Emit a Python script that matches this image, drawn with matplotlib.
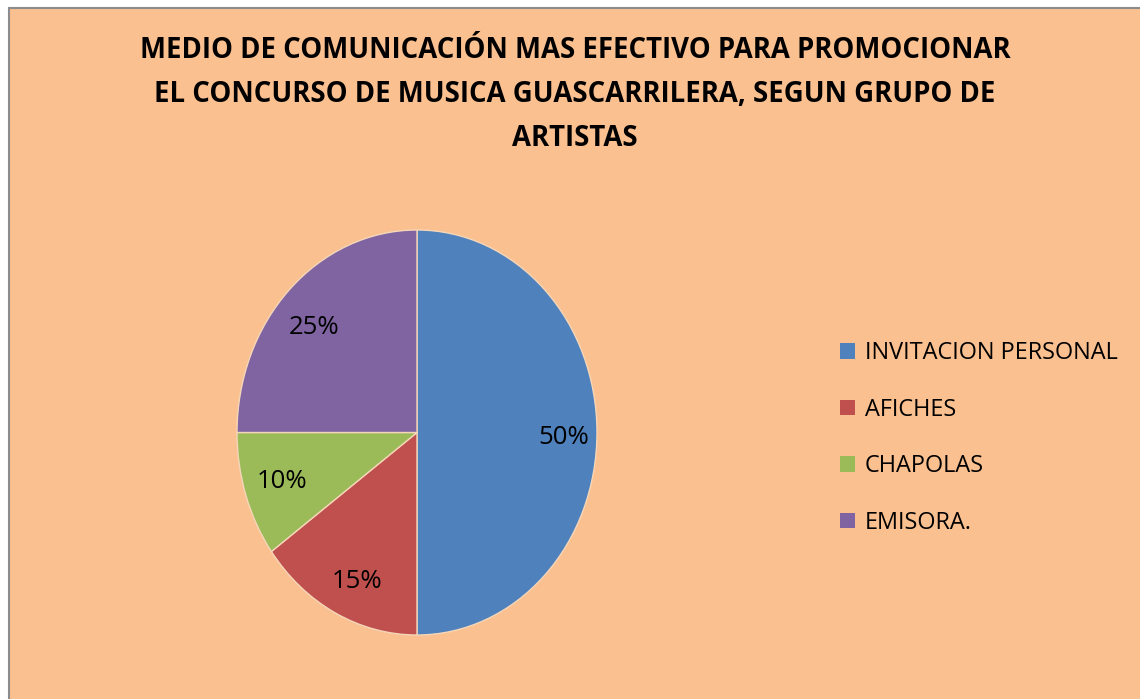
import matplotlib
matplotlib.use("Agg")
import matplotlib.pyplot as plt
from matplotlib.patches import Rectangle, Patch

categories = ["INVITACION PERSONAL", "AFICHES", "CHAPOLAS", "EMISORA."]
values = [50, 15, 10, 25]
colors = ["#4F81BD", "#C0504D", "#9BBB59", "#8064A2"]
title_lines = ["MEDIO DE COMUNICACIÓN MAS EFECTIVO PARA PROMOCIONAR",
               "EL CONCURSO DE MUSICA GUASCARRILERA, SEGUN GRUPO DE",
               "ARTISTAS"]

W, H = 1140, 699
BG = "#FAC090"
FONT = ["Open Sans", "DejaVu Sans"]

fig = plt.figure(figsize=(W / 100, H / 100), dpi=100, facecolor="white")

# chart area background with thin grey border (cropped at right/bottom)
fig.patches.append(Rectangle((8.5 / W, -0.05), 1.1, 1 - 7.5 / H + 0.05,
                             transform=fig.transFigure, facecolor=BG,
                             edgecolor="#8C8C8C", linewidth=1.5, zorder=-10))

# pie: ellipse x 237..597, y 230..635 (pixels from top)
ax = fig.add_axes([237 / W, (H - 635) / H, 360 / W, 405 / H])
ax.set_facecolor("none")
wedges, texts = ax.pie(values, colors=colors, startangle=90, counterclock=False,
                       radius=1, wedgeprops=dict(edgecolor="#F5D6B8", linewidth=1.0))
ax.set_xlim(-1, 1)
ax.set_ylim(-1, 1)
ax.set_aspect("auto")
ax.axis("off")

# percentage labels
label_px = [(564, 437), (357, 581), (282, 481), (314, 327)]
for (px, py), v in zip(label_px, values):
    fig.text(px / W, 1 - py / H, f"{v}%", ha="center", va="center",
             fontsize=18.5, family=FONT, color="black")

# title
title_y = [50, 94, 138]
for line, py in zip(title_lines, title_y):
    fig.text(575 / W, 1 - py / H, line, ha="center", va="center",
             fontsize=19.8, fontweight="bold", family=FONT, color="black")

# legend
handles = [Patch(facecolor=c, edgecolor="none") for c in colors]
leg = fig.legend(handles, categories, loc="center left",
                 bbox_to_anchor=(840 / W, 1 - 438 / H), frameon=False,
                 prop=dict(family=FONT, size=16.9), handlelength=0.65,
                 handleheight=0.65, handletextpad=0.4, labelspacing=1.38,
                 borderaxespad=0, borderpad=0)

fig.savefig("out.png", dpi=100, facecolor="white")
